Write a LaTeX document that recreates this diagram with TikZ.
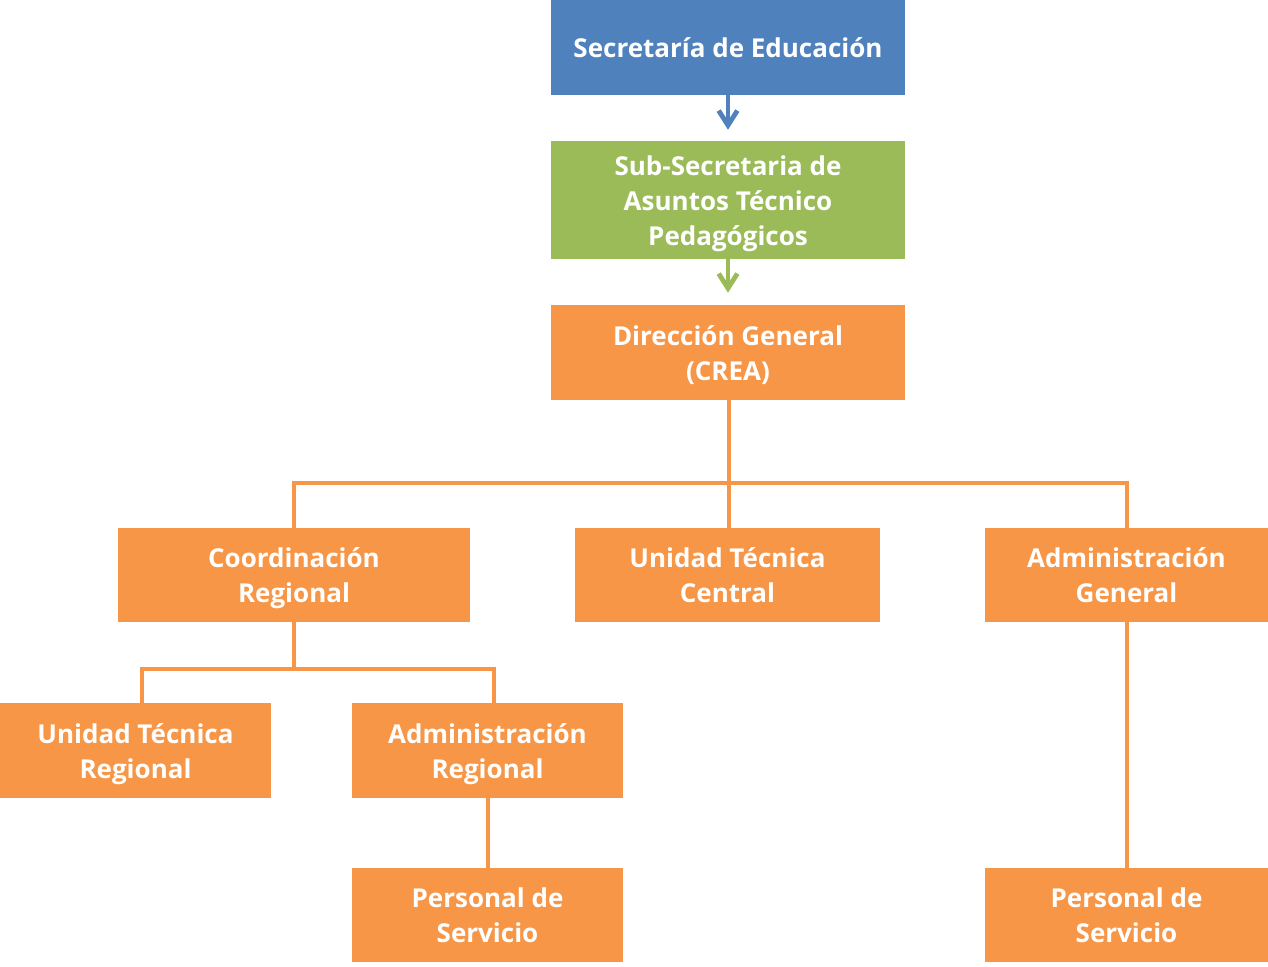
\documentclass[tikz,border=0pt]{standalone}
\usepackage{fontspec}
\setmainfont{Open Sans}
\usetikzlibrary{arrows.meta,calc}
\definecolor{cblue}{HTML}{4F81BD}
\definecolor{cgreen}{HTML}{9BBB59}
\definecolor{corange}{HTML}{F79646}
\newcommand\tps{\rule{0pt}{20pt}}
\newcommand\bts{\rule[-4.75pt]{0pt}{4.75pt}}
\tikzset{
  box/.style={fill=#1, draw=none, text=white, align=center, inner sep=0pt,
    font=\fontsize{19.5}{26.25}\selectfont\bfseries},
  conn/.style={draw=corange, line width=3pt},
  arr/.style={draw=#1, line width=3.6pt, -{Straight Barb[length=11pt,width=14pt,line width=3.6pt]}}
}
\begin{document}
\begin{tikzpicture}[x=0.75pt,y=-0.75pt]
\useasboundingbox (0,0) rectangle (1268,967);
\node[box=cblue, minimum width=265.5pt, minimum height=71.25pt] (se) at (728,47.5) {\tps Secretaría de Educación\bts};
\node[box=cgreen, minimum width=265.5pt, minimum height=88.5pt] (ss) at (728,200) {\tps Sub-Secretaria de\\Asuntos Técnico\\Pedagógicos\bts};
\node[box=corange, minimum width=265.5pt, minimum height=71.25pt] (dg) at (728,352.5) {\tps Dirección General\\(CREA)\bts};
\node[box=corange, minimum width=264pt, minimum height=70.5pt] (cr) at (294,575) {\tps Coordinación\\Regional\bts};
\node[box=corange, minimum width=228.75pt, minimum height=70.5pt] (uc) at (727.5,575) {\tps Unidad Técnica\\Central\bts};
\node[box=corange, minimum width=212.25pt, minimum height=70.5pt] (ag) at (1126.5,575) {\tps Administración\\General\bts};
\node[box=corange, minimum width=203.25pt, minimum height=71.25pt] (ut) at (135.5,750.5) {\tps Unidad Técnica\\Regional\bts};
\node[box=corange, minimum width=203.25pt, minimum height=71.25pt] (ar) at (487.5,750.5) {\tps Administración\\Regional\bts};
\node[box=corange, minimum width=203.25pt, minimum height=70.5pt] (p1) at (487.5,915) {\tps Personal de\\Servicio\bts};
\node[box=corange, minimum width=212.25pt, minimum height=70.5pt] (p2) at (1126.5,915) {\tps Personal de\\Servicio\bts};
\coordinate (bus1) at (729,483);
\coordinate (bus2) at (294,669);
\draw[arr=cblue] (se.south) -- ($(ss.north)+(0,-11)$);
\draw[arr=cgreen] (ss.south) -- ($(dg.north)+(0,-12)$);
\draw[conn] ($(dg.south)+(1,0)$) -- ($(uc.north)+(1.5,0)$);
\draw[conn] (cr.north) |- (bus1) -| ($(ag.north)+(0.5,0)$);
\draw[conn] (cr.south) -- (bus2);
\draw[conn] ($(ut.north)+(6.5,0)$) |- (bus2) -| ($(ar.north)+(6.5,0)$);
\draw[conn] ($(ar.south)+(0.5,0)$) -- ($(p1.north)+(0.5,0)$);
\draw[conn] ($(ag.south)+(0.5,0)$) -- ($(p2.north)+(0.5,0)$);
\end{tikzpicture}
\end{document}
